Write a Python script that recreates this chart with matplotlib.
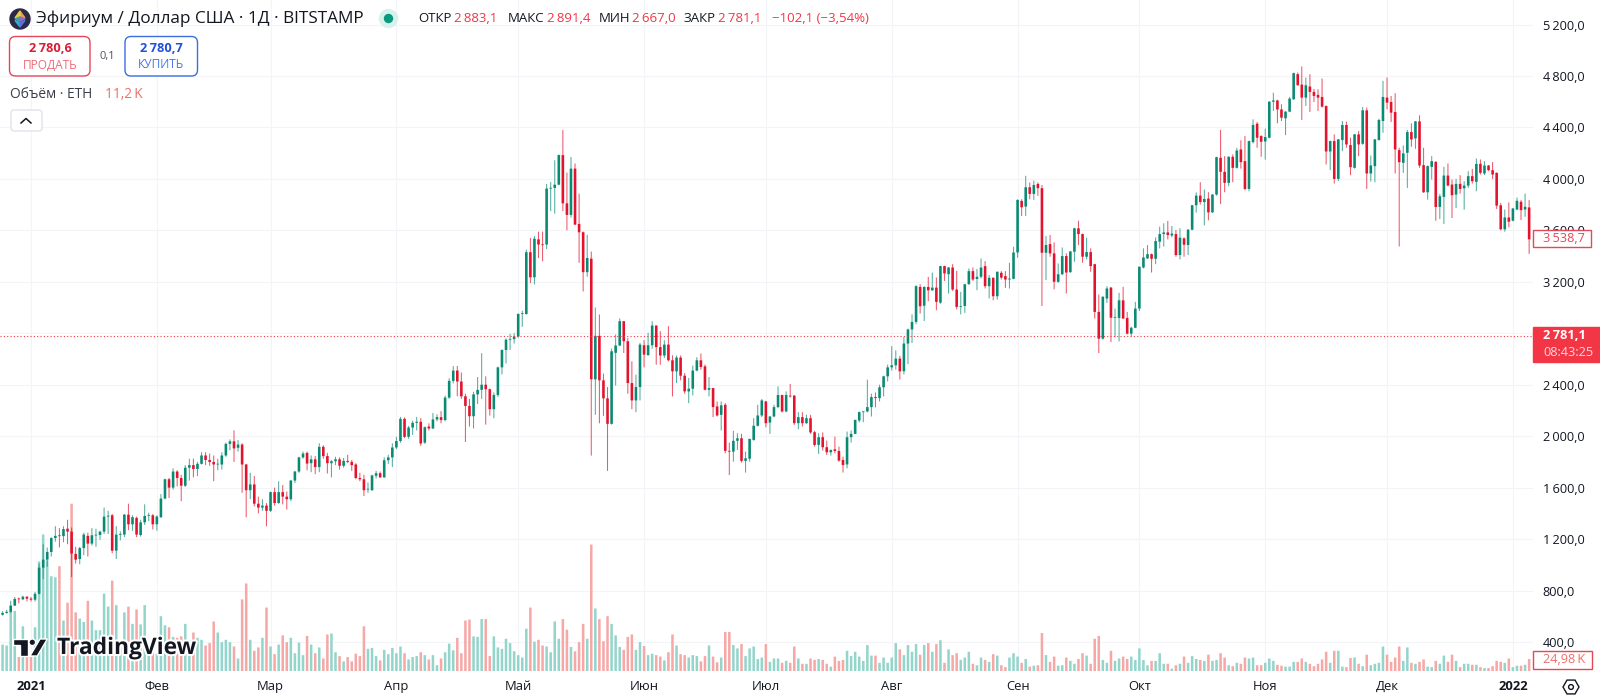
import numpy as np
import matplotlib
matplotlib.use("Agg")
from matplotlib import pyplot as plt
from matplotlib import patches
from matplotlib import patheffects

plt.rcParams['font.family'] = ['Open Sans', 'DejaVu Sans']

month_days = [0, 31, 59, 90, 120, 151, 181, 212, 243, 273, 304, 334, 365]
month_names = ["2021", "Фев", "Мар", "Апр", "Май", "Июн", "Июл", "Авг", "Сен", "Окт", "Ноя", "Дек", "2022"]
price_ticks = [400, 800, 1200, 1600, 2000, 2400, 2800, 3200, 3600, 4000, 4400, 4800, 5200]
last_price = 2781.1
marked_price = 3538.7

# one line per month, dec 2020 to jan 2022
opens = [
    612, 626, 635, 683, 735, 732, 752,
    737, 729, 775, 978, 1040, 1100, 1208, 1225, 1223, 1281, 1258, 1085, 1045, 1130, 1225, 1165, 1228, 1232, 1258, 1375, 1385, 1110, 1233, 1235, 1390, 1315, 1365, 1232, 1330, 1380, 1385,
    1315, 1370, 1515, 1665, 1600, 1725, 1675, 1615, 1755, 1775, 1745, 1785, 1850, 1815, 1800, 1780, 1780, 1850, 1940, 1960, 1910, 1935, 1780, 1580, 1625, 1475, 1445, 1460,
    1420, 1565, 1480, 1565, 1530, 1510, 1655, 1725, 1835, 1870, 1790, 1820, 1760, 1917, 1845, 1790, 1805, 1820, 1770, 1808, 1800, 1780, 1675, 1665, 1585, 1580, 1692, 1712, 1680, 1813, 1835,
    1912, 1962, 2135, 1995, 2067, 2104, 2112, 1950, 2075, 2060, 2130, 2148, 2125, 2300, 2430, 2510, 2425, 2310, 2235, 2155, 2325, 2360, 2400, 2365, 2210, 2320, 2535, 2670, 2750, 2755,
    2775, 2950, 2950, 3430, 3235, 3530, 3490, 3490, 3925, 3930, 3955, 4185, 3810, 3720, 4080, 3650, 3585, 3275, 3380, 2442, 2780, 2434, 2294, 2096, 2648, 2705, 2894, 2738, 2413, 2278, 2382,
    2707, 2630, 2707, 2860, 2692, 2627, 2712, 2590, 2504, 2611, 2470, 2348, 2369, 2510, 2590, 2543, 2361, 2374, 2231, 2166, 2244, 1886, 1880, 1964, 1984, 1808, 1825, 1971, 2081, 2161,
    2270, 2106, 2153, 2226, 2320, 2192, 2315, 2315, 2101, 2148, 2101, 2140, 2031, 1932, 1992, 1914, 1875, 1898, 1885, 1815, 1780, 1992, 2018, 2122, 2187, 2192, 2226, 2304, 2296, 2380, 2465,
    2535, 2551, 2603, 2505, 2720, 2830, 2888, 3160, 3014, 3160, 3134, 3155, 3038, 3322, 3259, 3311, 3140, 3005, 3012, 3181, 3283, 3222, 3239, 3322, 3166, 3231, 3088, 3270, 3244, 3218, 3223,
    3428, 3829, 3785, 3935, 3883, 3961, 3928, 3426, 3493, 3421, 3200, 3259, 3400, 3275, 3434, 3616, 3571, 3395, 3431, 3337, 2966, 2758, 3070, 3155, 2921, 2919, 3056, 2919, 2797, 2843,
    2992, 3311, 3382, 3415, 3379, 3512, 3571, 3584, 3560, 3571, 3408, 3538, 3486, 3605, 3795, 3870, 3820, 3847, 3740, 3878, 4164, 4055, 3969, 4172, 4086, 4229, 4138, 3922, 4286, 4429, 4333,
    4291, 4320, 4600, 4610, 4540, 4471, 4523, 4619, 4814, 4733, 4632, 4718, 4676, 4653, 4637, 4567, 4213, 4294, 4000, 4302, 4419, 4263, 4086, 4346, 4273, 4533, 4042, 4099, 4302, 4450,
    4632, 4598, 4520, 4224, 4125, 4203, 4364, 4315, 4447, 4107, 3896, 4094, 4133, 3782, 3860, 4026, 3956, 3878, 3961, 3927, 3948, 4021, 3977, 4117, 4042, 4104, 4068, 4047, 3795, 3608, 3700,
    3675, 3762, 3822, 3762, 3778,
]
highs = [
    640, 650, 720, 750, 745, 760, 755,
    750, 790, 1010, 1160, 1135, 1215, 1300, 1285, 1300, 1350, 1290, 1140, 1140, 1250, 1250, 1285, 1280, 1265, 1445, 1420, 1395, 1300, 1260, 1395, 1475, 1385, 1375, 1350, 1470, 1405, 1395,
    1385, 1550, 1670, 1675, 1750, 1735, 1700, 1775, 1825, 1825, 1800, 1875, 1875, 1865, 1850, 1825, 1875, 1950, 1975, 2045, 1970, 1945, 1785, 1715, 1690, 1530, 1510, 1480,
    1570, 1600, 1650, 1620, 1570, 1660, 1730, 1840, 1880, 1880, 1850, 1845, 1945, 1930, 1870, 1815, 1840, 1835, 1830, 1855, 1815, 1790, 1715, 1700, 1640, 1700, 1730, 1725, 1835, 1855, 1945,
    1995, 2150, 2145, 2080, 2120, 2150, 2140, 2075, 2100, 2180, 2170, 2195, 2315, 2450, 2545, 2545, 2495, 2330, 2290, 2345, 2460, 2645, 2465, 2370, 2340, 2540, 2675, 2760, 2795, 2800,
    2955, 2975, 3450, 3540, 3555, 3590, 3590, 3960, 3975, 4145, 4190, 4380, 4049, 4170, 4120, 3885, 3590, 3565, 3435, 3000, 2946, 2486, 2382, 2680, 2790, 2915, 2894, 2764, 2582, 2478, 2725,
    2746, 2803, 2894, 2860, 2816, 2746, 2855, 2629, 2627, 2627, 2491, 2452, 2549, 2614, 2642, 2556, 2460, 2374, 2270, 2270, 2257, 1950, 2042, 2023, 2018, 1880, 1980, 2140, 2244, 2289,
    2275, 2155, 2244, 2387, 2322, 2348, 2405, 2320, 2187, 2187, 2166, 2166, 2042, 2023, 2029, 1966, 1895, 1997, 1919, 1841, 2036, 2044, 2127, 2192, 2192, 2439, 2330, 2340, 2400, 2470, 2556,
    2700, 2667, 2625, 2770, 2835, 2947, 3174, 3181, 3165, 3239, 3272, 3233, 3325, 3325, 3315, 3337, 3285, 3122, 3185, 3304, 3311, 3300, 3381, 3361, 3252, 3235, 3280, 3283, 3283, 3348, 3473,
    3840, 3842, 4024, 3972, 3987, 3972, 3953, 3556, 3564, 3506, 3343, 3467, 3421, 3440, 3620, 3675, 3575, 3543, 3460, 3340, 3101, 3090, 3166, 3160, 2992, 3114, 3161, 2966, 2850, 3044,
    3320, 3460, 3486, 3420, 3545, 3629, 3655, 3673, 3634, 3603, 3616, 3545, 3610, 3798, 3895, 3974, 3917, 3896, 3882, 4172, 4380, 4177, 4175, 4190, 4242, 4300, 4333, 4297, 4463, 4442, 4340,
    4390, 4605, 4670, 4615, 4580, 4526, 4637, 4826, 4827, 4874, 4788, 4814, 4700, 4697, 4780, 4570, 4297, 4346, 4310, 4450, 4445, 4320, 4350, 4372, 4559, 4554, 4182, 4310, 4468, 4762,
    4788, 4645, 4666, 4242, 4260, 4380, 4432, 4450, 4494, 4242, 4105, 4177, 4135, 3883, 4094, 4120, 3995, 4000, 4029, 3982, 4060, 4078, 4159, 4151, 4138, 4108, 4130, 4050, 3813, 3762, 3817,
    3775, 3855, 3835, 3886, 3835,
]
lows = [
    605, 620, 625, 680, 700, 725, 715,
    715, 715, 770, 890, 985, 1065, 1180, 1135, 1175, 1160, 905, 1010, 1005, 1075, 1065, 1150, 1140, 1195, 1240, 1240, 1090, 1045, 1190, 1215, 1270, 1265, 1215, 1220, 1310, 1340, 1275,
    1265, 1365, 1510, 1520, 1585, 1610, 1495, 1605, 1655, 1680, 1690, 1780, 1775, 1770, 1650, 1735, 1740, 1840, 1890, 1800, 1880, 1560, 1370, 1510, 1455, 1400, 1420, 1300,
    1410, 1460, 1475, 1470, 1430, 1495, 1635, 1715, 1825, 1735, 1720, 1705, 1720, 1825, 1710, 1680, 1775, 1740, 1755, 1790, 1730, 1665, 1650, 1535, 1560, 1575, 1670, 1675, 1675, 1785, 1760,
    1900, 1950, 1985, 1980, 2010, 2045, 1925, 1940, 2045, 2055, 2115, 2100, 2115, 2290, 2410, 2310, 2290, 1955, 2075, 2060, 2250, 2290, 2090, 2160, 2140, 2305, 2480, 2565, 2670, 2720,
    2765, 2850, 2945, 3190, 3180, 3385, 3360, 3455, 3750, 3730, 3950, 3750, 3600, 3700, 3640, 3347, 3125, 3240, 1849, 2166, 2100, 2158, 1730, 2090, 2393, 2700, 2647, 2330, 2210, 2187, 2278,
    2535, 2625, 2680, 2556, 2556, 2608, 2582, 2309, 2413, 2434, 2330, 2257, 2317, 2505, 2517, 2356, 2309, 2148, 2153, 2044, 1867, 1698, 1802, 1893, 1795, 1717, 1802, 1965, 2075, 2148,
    2070, 2018, 2148, 2218, 2185, 2187, 2300, 2088, 2054, 2075, 2095, 2018, 1919, 1862, 1888, 1854, 1849, 1867, 1802, 1717, 1750, 1950, 2015, 2107, 2109, 2185, 2153, 2224, 2270, 2309, 2426,
    2510, 2517, 2440, 2480, 2560, 2724, 2870, 2953, 2895, 3049, 3130, 2979, 3030, 3207, 3109, 3129, 2986, 2947, 2958, 3178, 3207, 3135, 3226, 3148, 3070, 3056, 3062, 3218, 3153, 3148, 3220,
    3387, 3712, 3712, 3842, 3837, 3868, 3012, 3213, 3395, 3142, 3192, 3252, 3109, 3270, 3356, 3486, 3348, 3374, 3278, 2914, 2646, 2750, 3036, 2732, 2770, 2737, 2914, 2791, 2776, 2840,
    2973, 3304, 3378, 3272, 3337, 3460, 3473, 3530, 3545, 3395, 3374, 3395, 3408, 3600, 3738, 3800, 3639, 3678, 3735, 3870, 3805, 3896, 3943, 3974, 4080, 4080, 3912, 3904, 4276, 4242, 4172,
    4150, 4315, 4528, 4432, 4450, 4340, 4518, 4615, 4725, 4458, 4567, 4520, 4598, 4528, 4554, 4112, 4068, 3964, 3982, 4216, 4242, 4029, 4080, 4177, 4265, 3922, 3980, 3974, 4298, 4359,
    4541, 4442, 4042, 3475, 4047, 3930, 4250, 4234, 4086, 3891, 3839, 3995, 3675, 3688, 3649, 3943, 3696, 3774, 3886, 3761, 3930, 3964, 3904, 4034, 4030, 4060, 4000, 3766, 3600, 3590, 3623,
    3670, 3757, 3680, 3706, 3417,
]
closes = [
    626, 635, 683, 735, 732, 752, 737,
    729, 775, 978, 1040, 1100, 1208, 1225, 1223, 1278, 1258, 1088, 1040, 1130, 1235, 1165, 1230, 1232, 1258, 1375, 1382, 1110, 1235, 1240, 1390, 1315, 1370, 1235, 1330, 1380, 1385, 1315,
    1375, 1515, 1665, 1600, 1725, 1675, 1615, 1755, 1775, 1745, 1785, 1850, 1815, 1800, 1780, 1785, 1850, 1940, 1960, 1905, 1935, 1780, 1580, 1625, 1475, 1445, 1460, 1420,
    1565, 1480, 1565, 1530, 1510, 1655, 1725, 1835, 1865, 1787, 1820, 1760, 1917, 1845, 1790, 1805, 1820, 1770, 1808, 1800, 1775, 1675, 1665, 1580, 1590, 1695, 1712, 1680, 1813, 1835, 1912,
    1962, 2135, 1995, 2067, 2104, 2112, 1943, 2070, 2060, 2130, 2148, 2125, 2300, 2430, 2510, 2425, 2310, 2235, 2155, 2325, 2360, 2400, 2365, 2210, 2320, 2535, 2670, 2750, 2755, 2775,
    2950, 2955, 3430, 3235, 3535, 3490, 3485, 3925, 3930, 3955, 4185, 3810, 3720, 4080, 3645, 3585, 3275, 3385, 2442, 2780, 2434, 2294, 2096, 2660, 2705, 2894, 2738, 2413, 2278, 2382, 2712,
    2634, 2707, 2860, 2692, 2627, 2712, 2590, 2504, 2611, 2470, 2348, 2369, 2510, 2590, 2538, 2361, 2374, 2226, 2161, 2240, 1886, 1880, 1964, 1984, 1808, 1828, 1979, 2081, 2161, 2278,
    2101, 2153, 2226, 2320, 2192, 2320, 2309, 2101, 2148, 2101, 2140, 2029, 1932, 1992, 1914, 1875, 1893, 1885, 1810, 1776, 1992, 2018, 2127, 2187, 2192, 2226, 2304, 2296, 2380, 2465, 2535,
    2551, 2603, 2504, 2720, 2830, 2888, 3166, 3010, 3160, 3134, 3155, 3044, 3322, 3265, 3311, 3140, 3005, 3010, 3181, 3283, 3218, 3239, 3311, 3166, 3231, 3088, 3278, 3233, 3218, 3225, 3428,
    3837, 3779, 3935, 3883, 3953, 3928, 3426, 3486, 3421, 3200, 3259, 3400, 3272, 3436, 3616, 3571, 3395, 3431, 3322, 2966, 2758, 3083, 3148, 2921, 2926, 3056, 2914, 2797, 2843, 2992,
    3317, 3389, 3415, 3379, 3517, 3571, 3584, 3564, 3575, 3408, 3543, 3488, 3605, 3795, 3870, 3820, 3844, 3740, 3878, 4169, 4055, 3969, 4172, 4086, 4221, 4130, 3922, 4294, 4419, 4320, 4289,
    4325, 4600, 4610, 4540, 4476, 4523, 4624, 4822, 4728, 4632, 4728, 4676, 4645, 4632, 4562, 4213, 4294, 4000, 4307, 4419, 4268, 4091, 4346, 4268, 4533, 4042, 4104, 4307, 4458, 4637,
    4593, 4515, 4229, 4130, 4198, 4364, 4307, 4447, 4104, 3896, 4099, 4138, 3782, 3865, 4026, 3948, 3873, 3961, 3922, 3948, 4021, 3982, 4117, 4047, 4104, 4068, 4034, 3792, 3608, 3700, 3667,
    3770, 3830, 3757, 3783, 3530,
]
volumes_k = [
    55, 53, 125, 125, 29, 93, 29,
    29, 91, 228, 284, 230, 197, 195, 218, 105, 142, 348, 122, 109, 102, 146, 105, 85, 85, 161, 134, 188, 137, 64, 122, 134, 98, 128, 97, 137, 57, 42,
    36, 114, 95, 91, 71, 69, 72, 98, 64, 80, 69, 65, 53, 58, 103, 80, 60, 65, 60, 51, 26, 149, 182, 65, 42, 49, 69, 132,
    51, 35, 55, 74, 60, 69, 37, 59, 33, 73, 55, 37, 49, 26, 76, 78, 39, 31, 20, 29, 20, 36, 31, 93, 46, 48, 31, 22, 44, 35, 48,
    37, 51, 37, 24, 29, 31, 39, 33, 24, 33, 12, 26, 39, 57, 43, 69, 37, 105, 107, 72, 71, 108, 108, 31, 72, 49, 46, 67, 58, 41,
    33, 28, 88, 132, 61, 65, 53, 51, 39, 103, 67, 108, 86, 50, 41, 60, 98, 67, 263, 130, 108, 62, 114, 98, 74, 50, 44, 71, 76, 44, 60,
    52, 33, 36, 33, 30, 22, 39, 76, 53, 35, 33, 28, 33, 31, 20, 31, 53, 30, 18, 28, 81, 81, 54, 47, 56, 31, 47, 51, 25, 28,
    56, 19, 26, 26, 17, 21, 17, 51, 26, 15, 15, 26, 23, 25, 23, 15, 9, 30, 21, 23, 42, 31, 40, 30, 21, 54, 32, 32, 17, 28, 17,
    28, 58, 45, 33, 54, 40, 56, 34, 54, 58, 40, 56, 64, 17, 45, 33, 37, 23, 28, 40, 15, 12, 28, 23, 19, 35, 32, 12, 8, 28, 37,
    30, 17, 25, 9, 11, 12, 79, 33, 19, 30, 11, 12, 28, 21, 15, 25, 37, 32, 15, 67, 73, 23, 17, 42, 21, 26, 30, 25, 30, 23,
    47, 23, 12, 21, 21, 37, 15, 15, 5, 12, 15, 30, 17, 31, 25, 23, 21, 34, 21, 23, 37, 28, 12, 10, 17, 15, 28, 26, 28, 12, 12,
    17, 26, 21, 13, 11, 9, 9, 19, 19, 26, 19, 15, 10, 15, 24, 40, 17, 42, 42, 9, 8, 27, 28, 15, 10, 34, 12, 15, 17, 51,
    34, 19, 28, 51, 21, 49, 17, 15, 19, 24, 9, 8, 21, 15, 32, 19, 34, 21, 8, 15, 15, 13, 13, 8, 6, 6, 10, 21, 19, 17, 26,
    8, 11, 11, 13, 25,
]

UP = '#0b8a73'
DOWN = '#e3132d'
VOL_UP = '#93d5cb'
VOL_DOWN = '#f5a8a6'
GRID = '#f3f4f8'
TEXT = '#131722'
RED = '#f23645'


def rtext(value):
    # tradingview style: thin space for thousands, comma for decimals
    s = f"{value:,.1f}".replace(",", "\u2009").replace(".", ",")
    return s


opens = np.array(opens, dtype=float)
highs = np.array(highs, dtype=float)
lows = np.array(lows, dtype=float)
closes = np.array(closes, dtype=float)
volumes_k = np.array(volumes_k, dtype=float)
days = np.arange(len(opens)) - 7
rising = closes >= opens

fig = plt.figure(figsize=(16, 6.98), dpi=100)
pos = [0, 26 / 698, 1533 / 1600, 672 / 698]
xlim = (-31 / 4.06, 1502 / 4.06)
ylim = (400 + (642 - 672) / 0.12864, 400 + 642 / 0.12864)

# grid sits under the volume bars, candles on top
grid_ax = fig.add_axes(pos, zorder=1)
grid_ax.set_xlim(xlim)
grid_ax.set_ylim(ylim)
grid_ax.set_xticks(month_days)
grid_ax.set_yticks(price_ticks)
grid_ax.grid(color=GRID, linewidth=0.8)
grid_ax.tick_params(length=0, labelbottom=False, labelleft=False)
for sp in grid_ax.spines.values():
    sp.set_visible(False)

vol_ax = fig.add_axes(pos, zorder=2)
vol_ax.patch.set_alpha(0)
vol_ax.set_xlim(xlim)
vol_ax.set_ylim(-2.08, 671 * 2.08)
vol_bars = vol_ax.bar(days, volumes_k, width=0.62, linewidth=0, color=[VOL_UP if r else VOL_DOWN for r in rising])
for b in vol_bars:
    b.set_snap(False)
vol_ax.axis('off')

ax = fig.add_axes(pos, zorder=3)
ax.patch.set_alpha(0)
ax.set_xlim(xlim)
ax.set_ylim(ylim)
colors = [UP if r else DOWN for r in rising]
wicks = ax.vlines(days, lows, highs, colors=colors, linewidth=0.75, alpha=0.7)
wicks.set_snap(False)
bodies = ax.bar(days, np.maximum(np.abs(closes - opens), 6), bottom=np.minimum(opens, closes), width=0.64, linewidth=0, color=colors)
for b in bodies:
    b.set_snap(False)
ax.axhline(last_price, color=RED, linewidth=0.8, linestyle=(0, (1, 2)))

ax.set_xticks(month_days)
ax.set_xticklabels(month_names, fontsize=9.4, color=TEXT)
for lab in ax.get_xticklabels():
    if lab.get_text() in ("2021", "2022"):
        lab.set_fontweight('bold')
ax.yaxis.tick_right()
ax.set_yticks(price_ticks)
ax.set_yticklabels([rtext(p) for p in price_ticks], fontsize=9.2, color=TEXT)
ax.tick_params(axis='x', length=0, pad=6)
ax.tick_params(axis='y', length=0, pad=7)
for sp in ax.spines.values():
    sp.set_visible(False)

# everything around the chart is laid out in pixels
ui = fig.add_axes([0, 0, 1, 1], zorder=5)
ui.set_xlim(0, 1600)
ui.set_ylim(698, 0)
ui.axis('off')
ui.patch.set_alpha(0)


def label(x, y, s, color=TEXT, size=9.2, ha='left', weight='normal', **kw):
    return ui.text(x, y, s, color=color, fontsize=size, ha=ha, va='center', fontweight=weight, **kw)


def box(x0, y0, x1, y1, edge, face='white', lw=1, radius=0):
    style = f"round,pad=0,rounding_size={radius}" if radius else "square,pad=0"
    ui.add_patch(patches.FancyBboxPatch((x0, y0), x1 - x0, y1 - y0, boxstyle=style, facecolor=face, edgecolor=edge, linewidth=lw))


# header
ui.add_patch(patches.Circle((20, 19), 10, color='#2a2a45'))
ui.add_patch(patches.Polygon([(20, 11), (25, 18), (20, 16)], color='#e8a33d'))
ui.add_patch(patches.Polygon([(20, 11), (15, 18), (20, 16)], color='#f2c94c'))
ui.add_patch(patches.Polygon([(15, 19), (20, 17), (20, 21)], color='#35a89a'))
ui.add_patch(patches.Polygon([(25, 19), (20, 17), (20, 21)], color='#8e6bd1'))
ui.add_patch(patches.Polygon([(15, 20.5), (20, 27), (20, 22.5)], color='#3fa7d6'))
ui.add_patch(patches.Polygon([(25, 20.5), (20, 27), (20, 22.5)], color='#5b6ee1'))
label(35.5, 19, "Эфириум / Доллар США · 1Д · BITSTAMP", size=12.4)
ui.add_patch(patches.Circle((388.5, 18.5), 9, color='#d9f1ed'))
ui.add_patch(patches.Circle((388.5, 18.5), 4, color='#089981'))
for x, s, c in [(418, "ОТКР", TEXT), (454, "2\u2009883,1", RED), (508, "МАКС", TEXT), (547, "2\u2009891,4", RED),
                (599, "МИН", TEXT), (632, "2\u2009667,0", RED), (683, "ЗАКР", TEXT), (718, "2\u2009781,1", RED),
                (772, "\u2212102,1 (\u22123,54%)", RED)]:
    label(x, 19, s, color=c, size=9.5)

# buy and sell buttons
box(9.5, 36.5, 90, 76, '#e3485a', radius=6)
label(50, 49, "2\u2009780,6", color='#d81e34', size=9.2, ha='center', weight='bold')
label(50, 65, "ПРОДАТЬ", color='#ef6b78', size=8.6, ha='center')
label(107.5, 56, "0,1", color='#50535e', size=8, ha='center')
box(125, 36.5, 197.5, 76, '#3b6fe0', radius=6)
label(161, 49, "2\u2009780,7", color='#1f50d8', size=9.2, ha='center', weight='bold')
label(161, 65, "КУПИТЬ", color='#4a78e6', size=8.6, ha='center')

label(10, 94.5, "Объём · ETH", size=9.9, color='#3a3e4a')
label(105, 94.5, "11,2\u2009K", size=9.9, color='#ef6f6c')
box(11, 110, 42, 131, '#e0e3eb', radius=3)
ui.plot([21, 26, 31], [123, 118.5, 123], color=TEXT, linewidth=1.1)

# watermark
halo = [patheffects.withStroke(linewidth=3, foreground='white')]
label(57, 648, "TradingView", size=16.4, weight='bold', color='#131722', path_effects=halo)
logo = [patches.Polygon([(13.3, 639), (28.3, 639), (28.3, 656), (20, 656), (20, 645), (13.3, 645)]),
        patches.Circle((32.3, 642.3), 3.3),
        patches.Polygon([(47.3, 639), (40, 639), (30, 656), (37.3, 656)])]
for p in logo:
    p.set_facecolor('#131722')
    p.set_edgecolor('white')
    p.set_linewidth(1)
    ui.add_patch(p)

# price scale flags
box(1533, 230, 1590.5, 247, '#e3485a')
label(1543, 238.5, rtext(marked_price), color='#e3485a')
box(1533, 327, 1600, 361.5, RED, face=RED)
label(1543, 335.5, rtext(last_price), color='white', weight='bold')
label(1543, 352, "08:43:25", color='#ffd7da')
box(1533, 651, 1592, 668.5, '#e3485a')
label(1543, 659.5, "24,98\u2009K", color='#ef6f6c')

# settings icon
ui.add_patch(patches.RegularPolygon((1571, 687), 6, radius=8, orientation=np.pi / 2, facecolor='none', edgecolor=TEXT, linewidth=1))
ui.add_patch(patches.Circle((1571, 687), 2.4, facecolor='none', edgecolor=TEXT, linewidth=1))

fig.savefig("out.png", dpi=100)
